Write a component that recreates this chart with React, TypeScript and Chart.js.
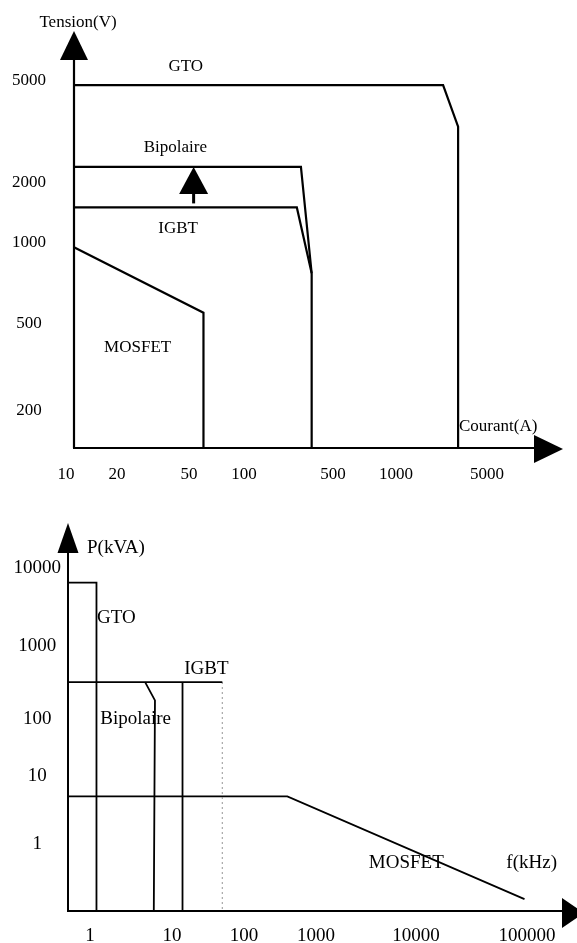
import React, { useEffect, useRef } from 'react';
import { Chart, Scale, registerables } from 'chart.js';

Chart.register(...registerables);

// ---------- Custom scale: log values, tick anchors placed as in the schematic ----------
class AnchoredLogScale extends Scale {
  static id = 'anchoredLog';
  static defaults = {};

  parse(raw: any) {
    return raw === undefined || raw === null ? raw : Number(raw);
  }
  determineDataLimits() {
    const anchors = ((this.options as any).anchors as number[][]) || [];
    (this as any)._anch = anchors
      .map(([v, f]) => ({ l: Math.log10(v), f }))
      .sort((a, b) => a.l - b.l);
    this.min = this._valForDec(0);
    this.max = this._valForDec(1);
  }
  buildTicks() {
    return (((this.options as any).tickValues as number[]) || []).map((v) => ({ value: v }));
  }
  getLabelForValue(v: number) {
    return String(v);
  }
  _decForVal(v: number) {
    const a = (this as any)._anch;
    const l = Math.log10(v);
    let i = 0;
    while (i < a.length - 2 && l > a[i + 1].l) i++;
    const p = a[i], q = a[i + 1];
    return p.f + ((l - p.l) / (q.l - p.l)) * (q.f - p.f);
  }
  _valForDec(d: number) {
    const a = (this as any)._anch;
    let i = 0;
    while (i < a.length - 2 && d > a[i + 1].f) i++;
    const p = a[i], q = a[i + 1];
    return Math.pow(10, p.l + ((d - p.f) / (q.f - p.f)) * (q.l - p.l));
  }
  getPixelForValue(v: number) {
    return this.getPixelForDecimal(this._decForVal(v));
  }
  getValueForPixel(px: number) {
    return this._valForDec(this.getDecimalForPixel(px));
  }
}
Chart.register(AnchoredLogScale as any);

// ---------- DATA: top chart (Tension vs Courant) ----------
const topCurrentTicks = [10, 20, 50, 100, 500, 1000, 5000];
const topCurrentTickLabels = ['10', '20', '50', '100', '500', '1000', '5000'];
const topVoltageTicks = [200, 500, 1000, 2000, 5000];
const topVoltageTickLabels = ['200', '500', '1000', '2000', '5000'];
const TOP_I0 = 11; // current at the vertical axis
const TOP_V0 = 130; // voltage at the horizontal axis

const topGtoCurrent = [TOP_I0, 2300, 3000, 3000];
const topGtoVoltage = [4800, 4800, 3300, TOP_V0];
const topBipCurrent = [TOP_I0, 280, 340, 340];
const topBipVoltage = [2300, 2300, 770, TOP_V0];
const topIgbtCurrent = [TOP_I0, 260, 340];
const topIgbtVoltage = [1500, 1500, 770];
const topMosCurrent = [TOP_I0, 60, 60];
const topMosVoltage = [960, 550, TOP_V0];

const topRegionNames = ['GTO', 'Bipolaire', 'IGBT', 'MOSFET'];
const topRegionCurrent = [48, 42, 43.5, 26];
const topRegionVoltage = [5650, 2750, 1170, 390];

const topArrowCurrent = 53;
const topArrowFrom = 1500;
const topArrowTo = 2300;

// ---------- DATA: bottom chart (P vs f) ----------
const botFreqTicks = [1, 10, 100, 1000, 10000, 100000];
const botFreqTickLabels = ['1', '10', '100', '1000', '10000', '100000'];
const botPowerTicks = [1, 10, 100, 1000, 10000];
const botPowerTickLabels = ['1', '10', '100', '1000', '10000'];
const BOT_F0 = 0.5;
const BOT_P0 = 0.1;

const botGtoFreq = [BOT_F0, 1.2, 1.2];
const botGtoPower = [6500, 6500, BOT_P0];
const botIgbtFreq = [BOT_F0, 50];
const botIgbtPower = [320, 320];
const botIgbtEdgeFreq = [14, 14];
const botIgbtEdgePower = [320, BOT_P0];
const botIgbtLimitFreq = [50, 50];
const botIgbtLimitPower = [320, BOT_P0];
const botBipFreq = [4.7, 6.2, 6];
const botBipPower = [320, 180, BOT_P0];
const botMosFreq = [BOT_F0, 400, 95000];
const botMosPower = [5, 5, 0.15];

const botRegionNames = ['GTO', 'IGBT', 'Bipolaire', 'MOSFET'];
const botRegionFreq = [2.1, 30, 3.6, 8000];
const botRegionPower = [2300, 480, 100, 0.52];

// ---------- helpers ----------
const SERIF = '"Liberation Serif", "Times New Roman", Times, serif';

function seg(xs: number[], ys: number[], width: number, extra: any = {}) {
  return {
    data: xs.map((x, i) => ({ x, y: ys[i] })),
    showLine: true,
    borderColor: '#000',
    borderWidth: width,
    pointRadius: 0,
    pointHoverRadius: 0,
    fill: false,
    tension: 0,
    clip: false,
    borderJoinStyle: 'miter',
    ...extra,
  };
}

function arrowHead(ctx: CanvasRenderingContext2D, tx: number, ty: number, dir: 'up' | 'right', len: number, half: number) {
  ctx.beginPath();
  if (dir === 'up') {
    ctx.moveTo(tx, ty);
    ctx.lineTo(tx - half, ty + len);
    ctx.lineTo(tx + half, ty + len);
  } else {
    ctx.moveTo(tx, ty);
    ctx.lineTo(tx - len, ty - half);
    ctx.lineTo(tx - len, ty + half);
  }
  ctx.closePath();
  ctx.fill();
}

function text(ctx: CanvasRenderingContext2D, s: string, x: number, y: number, size: number, align: CanvasTextAlign = 'center') {
  ctx.font = `${size}px ${SERIF}`;
  ctx.textAlign = align;
  ctx.textBaseline = 'middle';
  ctx.fillText(s, x, y);
}

function axisOpts(anchors: number[][], tickValues: number[], labels: string[], size: number, padding: number, fix: (s: any) => void, extraTicks: any = {}) {
  return {
    type: 'anchoredLog',
    anchors,
    tickValues,
    grid: { display: false, drawTicks: false },
    border: { display: false },
    ticks: {
      autoSkip: false,
      maxRotation: 0,
      minRotation: 0,
      color: '#000',
      padding,
      font: { family: SERIF, size },
      callback: (_v: any, i: number) => labels[i],
      ...extraTicks,
    },
    afterFit: (s: any) => {
      fix(s);
      s.paddingLeft = 0;
      s.paddingRight = 0;
      s.paddingTop = 0;
      s.paddingBottom = 0;
    },
  };
}

const topDecor = {
  id: 'topDecor',
  afterDraw(chart: any) {
    const { ctx, chartArea: a, scales } = chart;
    const x = scales.x, y = scales.y;
    ctx.save();
    ctx.strokeStyle = '#000';
    ctx.fillStyle = '#000';
    ctx.lineWidth = 2.2;
    ctx.beginPath();
    ctx.moveTo(a.left, a.bottom);
    ctx.lineTo(a.left, a.top);
    ctx.moveTo(a.left - 1, a.bottom);
    ctx.lineTo(a.right, a.bottom);
    ctx.stroke();
    arrowHead(ctx, a.left, a.top - 29, 'up', 29, 14);
    arrowHead(ctx, a.right + 29, a.bottom + 1, 'right', 29, 14);

    // small arrow between IGBT and Bipolaire
    const ax = x.getPixelForValue(topArrowCurrent);
    const tip = y.getPixelForValue(topArrowTo);
    const from = y.getPixelForValue(topArrowFrom);
    arrowHead(ctx, ax, tip, 'up', 27, 14.5);
    ctx.fillRect(ax - 1.5, tip + 26, 3, from - 4 - (tip + 26));

    topRegionNames.forEach((n, i) => {
      text(ctx, n, x.getPixelForValue(topRegionCurrent[i]), y.getPixelForValue(topRegionVoltage[i]), 17);
    });
    text(ctx, 'Tension(V)', a.left + 4, a.top - 37, 17);
    text(ctx, 'Courant(A)', a.right - 75, a.bottom - 21, 17, 'left');
    ctx.restore();
  },
};

const botDecor = {
  id: 'botDecor',
  afterDraw(chart: any) {
    const { ctx, chartArea: a, scales } = chart;
    const x = scales.x, y = scales.y;
    ctx.save();
    ctx.strokeStyle = '#000';
    ctx.fillStyle = '#000';
    ctx.lineWidth = 2;
    ctx.beginPath();
    ctx.moveTo(a.left, a.bottom);
    ctx.lineTo(a.left, a.top);
    ctx.moveTo(a.left - 1, a.bottom);
    ctx.lineTo(a.right, a.bottom);
    ctx.stroke();
    arrowHead(ctx, a.left, a.top - 30, 'up', 30, 10.5);
    arrowHead(ctx, a.right + 22, a.bottom + 2, 'right', 22, 15);

    botRegionNames.forEach((n, i) => {
      text(ctx, n, x.getPixelForValue(botRegionFreq[i]), y.getPixelForValue(botRegionPower[i]), 19);
    });
    text(ctx, 'P(kVA)', a.left + 19, a.top - 5, 19, 'left');
    text(ctx, 'f(kHz)', a.right - 5, a.bottom - 48, 19, 'right');
    ctx.restore();
  },
};

function makeTop(canvas: HTMLCanvasElement) {
  return new Chart(canvas, {
    type: 'scatter',
    data: {
      datasets: [
        seg(topGtoCurrent, topGtoVoltage, 2.2),
        seg(topBipCurrent, topBipVoltage, 2.2),
        seg(topIgbtCurrent, topIgbtVoltage, 2.2),
        seg(topMosCurrent, topMosVoltage, 2.2),
      ] as any,
    },
    options: {
      responsive: false,
      animation: false,
      events: [],
      layout: { padding: { top: 60, right: 43, left: 0, bottom: 0 } },
      plugins: { legend: { display: false }, tooltip: { enabled: false } },
      scales: {
        x: axisOpts(
          [[10, -0.0174], [TOP_I0, 0], [20, 0.0935], [50, 0.25], [100, 0.3696], [500, 0.563], [1000, 0.7], [5000, 0.8978]],
          topCurrentTicks, topCurrentTickLabels, 17, 16, (s) => { s.height = 52; }
        ),
        y: axisOpts(
          [[TOP_V0, 0], [200, 0.0954], [500, 0.3196], [1000, 0.5296], [2000, 0.6843], [5000, 0.9472]],
          topVoltageTicks, topVoltageTickLabels, 17, 28, (s) => { s.width = 74; }, { crossAlign: 'center' }
        ),
      } as any,
    },
    plugins: [topDecor as any],
  } as any);
}

function makeBottom(canvas: HTMLCanvasElement) {
  return new Chart(canvas, {
    type: 'scatter',
    data: {
      datasets: [
        seg(botGtoFreq, botGtoPower, 1.8),
        seg(botIgbtFreq, botIgbtPower, 1.8),
        seg(botIgbtEdgeFreq, botIgbtEdgePower, 1.8),
        seg(botIgbtLimitFreq, botIgbtLimitPower, 1.2, { borderColor: '#8a8a8a', borderDash: [1.5, 3.5] }),
        seg(botBipFreq, botBipPower, 1.8),
        seg(botMosFreq, botMosPower, 1.8),
      ] as any,
    },
    options: {
      responsive: false,
      animation: false,
      events: [],
      layout: { padding: { top: 53, right: 15, left: 0, bottom: 0 } },
      plugins: { legend: { display: false }, tooltip: { enabled: false } },
      scales: {
        x: axisOpts(
          [[BOT_F0, 0], [1, 0.0445], [10, 0.2105], [100, 0.3563], [1000, 0.502], [10000, 0.7045], [100000, 0.9291]],
          botFreqTicks, botFreqTickLabels, 19, 14, (s) => { s.height = 32; }
        ),
        y: axisOpts(
          [[BOT_P0, 0], [1, 0.1872], [10, 0.3771], [100, 0.5363], [1000, 0.7402], [10000, 0.9581]],
          botPowerTicks, botPowerTickLabels, 19, 7, (s) => { s.width = 68; }, { crossAlign: 'center' }
        ),
      } as any,
    },
    plugins: [botDecor as any],
  } as any);
}

export default function App() {
  const topRef = useRef<HTMLCanvasElement>(null);
  const botRef = useRef<HTMLCanvasElement>(null);

  useEffect(() => {
    const c1 = makeTop(topRef.current!);
    const c2 = makeBottom(botRef.current!);
    return () => {
      c1.destroy();
      c2.destroy();
    };
  }, []);

  return (
    <div style={{ position: 'absolute', left: 0, top: 0, width: 577, height: 943, background: '#fff', overflow: 'hidden' }}>
      <canvas ref={topRef} width={577} height={500} style={{ position: 'absolute', left: 0, top: 0, width: 577, height: 500 }} />
      <canvas ref={botRef} width={577} height={443} style={{ position: 'absolute', left: 0, top: 500, width: 577, height: 443 }} />
    </div>
  );
}
